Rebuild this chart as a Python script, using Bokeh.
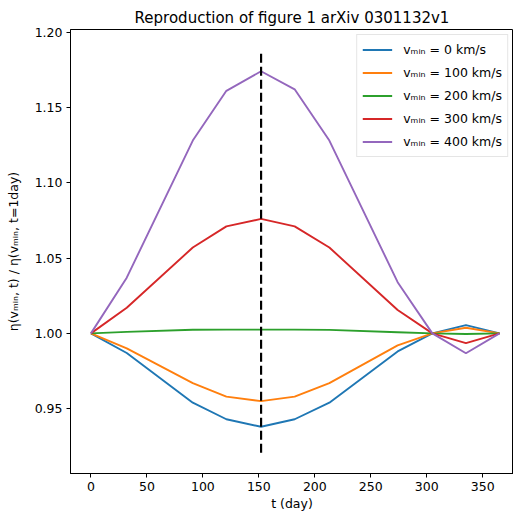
from bokeh.plotting import figure
from bokeh.models import Range1d, FixedTicker, PrintfTickFormatter, Legend, LegendItem
from bokeh.embed import file_html
from bokeh.resources import INLINE

days = [0, 32, 91, 121, 152, 182, 213, 274, 305, 335, 365]
eta_v0 = [1.000, 0.987, 0.954, 0.943, 0.938, 0.943, 0.954, 0.988, 1.000, 1.0055, 1.000]
eta_v100 = [1.000, 0.990, 0.967, 0.958, 0.955, 0.958, 0.967, 0.992, 1.000, 1.0037, 1.000]
eta_v200 = [1.000, 1.001, 1.0024, 1.0025, 1.0025, 1.0025, 1.0023, 1.0008, 1.000, 0.9996, 1.000]
eta_v300 = [1.000, 1.017, 1.057, 1.071, 1.076, 1.071, 1.057, 1.0155, 1.000, 0.9935, 1.000]
eta_v400 = [1.000, 1.037, 1.128, 1.161, 1.174, 1.162, 1.128, 1.034, 1.000, 0.9868, 1.000]
series = [eta_v0, eta_v100, eta_v200, eta_v300, eta_v400]
labels = ["v\u2098\u1d62\u2099 = 0 km/s", "v\u2098\u1d62\u2099 = 100 km/s", "v\u2098\u1d62\u2099 = 200 km/s",
          "v\u2098\u1d62\u2099 = 300 km/s", "v\u2098\u1d62\u2099 = 400 km/s"]
colors = ["#1f77b4", "#ff7f0e", "#2ca02c", "#d62728", "#9467bd"]

marker_day = [152, 152]
marker_eta = [0.9207, 1.1880]

x_ticks = [0, 50, 100, 150, 200, 250, 300, 350]
y_ticks = [0.95, 1.00, 1.05, 1.10, 1.15, 1.20]

FONT = "DejaVu Sans"

p = figure(width=513, height=513, output_backend="svg", toolbar_location=None,
           x_range=Range1d(-18.25, 377.5), y_range=Range1d(0.907, 1.2017),
           min_border_left=70, min_border_right=0, min_border_top=29, min_border_bottom=38,
           title="Reproduction of figure 1 arXiv 0301132v1")
p.title.align = "center"
p.title.text_font = FONT
p.title.text_font_size = "15px"
p.title.text_font_style = "normal"
p.title.text_color = "black"
p.title.standoff = 5

p.xgrid.visible = False
p.ygrid.visible = False
p.outline_line_color = "black"
p.outline_line_width = 1
p.background_fill_color = "white"

for ax in (p.xaxis, p.yaxis):
    ax.axis_line_color = "black"
    ax.major_tick_line_color = "black"
    ax.major_tick_out = 4
    ax.major_tick_in = 0
    ax.minor_tick_line_color = None
    ax.major_label_text_font = FONT
    ax.major_label_text_font_size = "12.5px"
    ax.major_label_text_color = "black"
    ax.axis_label_text_font = FONT
    ax.axis_label_text_font_size = "12.5px"
    ax.axis_label_text_font_style = "normal"
    ax.axis_label_text_color = "black"

p.xaxis.ticker = FixedTicker(ticks=x_ticks)
p.yaxis.ticker = FixedTicker(ticks=y_ticks)
p.yaxis.formatter = PrintfTickFormatter(format="%.2f")
p.xaxis.axis_label = "t (day)"
p.yaxis.axis_label = "\u03b7(v\u2098\u1d62\u2099, t) / \u03b7(v\u2098\u1d62\u2099, t=1day)"
p.xaxis.major_label_standoff = 4
p.xaxis.axis_label_standoff = 2
p.yaxis.major_label_standoff = 4
p.yaxis.axis_label_standoff = 11

items = []
for ys, lab, col in zip(series, labels, colors):
    r = p.line(days, ys, line_color=col, line_width=1.9)
    items.append(LegendItem(label=lab, renderers=[r]))

p.line(marker_day, marker_eta, line_color="black", line_width=2.2, line_dash="9 4")

legend = Legend(items=items, location="top_right")
legend.margin = 5
legend.padding = 5
legend.spacing = 4
legend.label_height = 19
legend.glyph_height = 19
legend.glyph_width = 30
legend.label_standoff = 11
legend.label_text_font = FONT
legend.label_text_font_size = "12.5px"
legend.label_text_color = "black"
legend.border_line_color = "#cccccc"
legend.border_line_width = 1
legend.background_fill_alpha = 0.8
p.add_layout(legend, "center")

open("out.html", "w").write(file_html(p, INLINE))
